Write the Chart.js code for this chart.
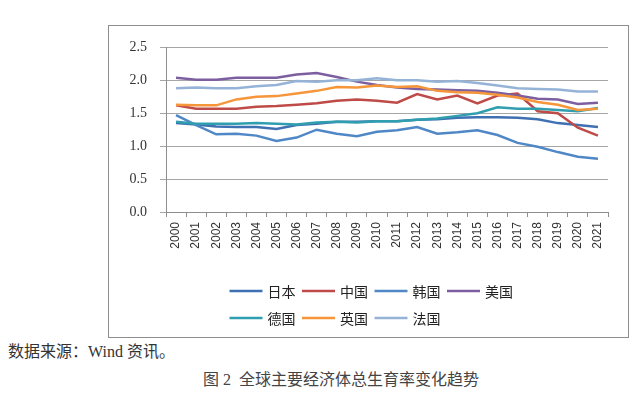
<!DOCTYPE html>
<html>
<head>
<meta charset="utf-8">
<script src="https://cdn.jsdelivr.net/npm/chart.js@4.4.0/dist/chart.umd.min.js"></script>
<style>
  body { margin: 0; background: #fff; width: 640px; height: 399px; position: relative; overflow: hidden; }
  #frame { position: absolute; left: 108px; top: 25px; width: 519px; height: 311px; border: 1px solid #8e8e8e; }
  #frame canvas { display: block; }
  #source { position: absolute; left: 8px; top: 342px; font: 16px "Liberation Serif", "Noto Sans CJK SC"; color: #333; line-height: 20px; }
  #caption { position: absolute; left: 0; width: 682px; top: 370px; text-align: center; font: 16px "Liberation Serif", "Noto Sans CJK SC"; color: #444; line-height: 20px; }
</style>
</head>
<body>
<div id="frame"><canvas id="tfr-chart" width="519" height="311"></canvas></div>
<div id="source">数据来源：Wind 资讯。</div>
<div id="caption">图 2&nbsp; 全球主要经济体总生育率变化趋势</div>
<script>
let years = ['2000', '2001', '2002', '2003', '2004', '2005', '2006', '2007', '2008', '2009', '2010',
             '2011', '2012', '2013', '2014', '2015', '2016', '2017', '2018', '2019', '2020', '2021']
let seriesNames = ['日本', '中国', '韩国', '美国', '德国', '英国', '法国']
let japan   = [1.35, 1.33, 1.30, 1.29, 1.29, 1.26, 1.32, 1.34, 1.37, 1.37, 1.38, 1.38, 1.40, 1.41, 1.43, 1.44, 1.44, 1.43, 1.41, 1.35, 1.32, 1.29]
let china   = [1.62, 1.57, 1.57, 1.57, 1.60, 1.61, 1.63, 1.65, 1.69, 1.71, 1.69, 1.66, 1.79, 1.71, 1.77, 1.65, 1.77, 1.80, 1.53, 1.50, 1.28, 1.16]
let korea   = [1.47, 1.32, 1.18, 1.19, 1.16, 1.08, 1.13, 1.25, 1.19, 1.15, 1.22, 1.24, 1.29, 1.19, 1.21, 1.24, 1.17, 1.05, 0.99, 0.91, 0.84, 0.81]
let usa     = [2.04, 2.01, 2.01, 2.04, 2.04, 2.04, 2.09, 2.11, 2.05, 1.98, 1.93, 1.89, 1.87, 1.86, 1.85, 1.84, 1.81, 1.77, 1.72, 1.71, 1.64, 1.66]
let germany = [1.37, 1.34, 1.34, 1.34, 1.35, 1.34, 1.33, 1.36, 1.37, 1.36, 1.38, 1.38, 1.40, 1.42, 1.46, 1.50, 1.59, 1.57, 1.57, 1.55, 1.53, 1.58]
let uk      = [1.63, 1.62, 1.62, 1.71, 1.75, 1.76, 1.80, 1.84, 1.90, 1.89, 1.92, 1.90, 1.91, 1.84, 1.82, 1.81, 1.78, 1.74, 1.67, 1.63, 1.55, 1.57]
let france  = [1.88, 1.89, 1.88, 1.88, 1.91, 1.93, 1.99, 1.98, 2.00, 2.00, 2.03, 2.00, 2.00, 1.98, 1.99, 1.96, 1.92, 1.88, 1.87, 1.86, 1.83, 1.83]
let yTickLabels = ['0.0', '0.5', '1.0', '1.5', '2.0', '2.5']
let lineColors = ['#3f70b2', '#be4b48', '#4f87c7', '#7d5fa0', '#2f9fb0', '#f5963a', '#95b3d7']

let allSeries = [japan, china, korea, usa, germany, uk, france]

// legend drawn like the Excel one: 4 columns, second row under the first
const gridLegend = {
    id: 'gridLegend',
    afterDraw(chart) {
        const ctx = chart.ctx
        ctx.save()
        ctx.font = '14px "Noto Sans CJK SC"'
        ctx.textBaseline = 'middle'
        ctx.textAlign = 'left'
        chart.data.datasets.forEach((ds, i) => {
            const x = 120.5 + (i % 4) * 72.5
            const y = 265 + Math.floor(i / 4) * 27
            ctx.strokeStyle = ds.borderColor
            ctx.lineWidth = 2.5
            ctx.beginPath()
            ctx.moveTo(x, y)
            ctx.lineTo(x + 33, y)
            ctx.stroke()
            ctx.fillStyle = '#222'
            ctx.fillText(ds.label, x + 38, y + 1)
        })
        ctx.restore()
    }
}

new Chart('tfr-chart', {
    type: 'line',
    data: {
        labels: years,
        datasets: allSeries.map((vals, i) => ({
            label: seriesNames[i],
            data: vals,
            borderColor: lineColors[i],
            backgroundColor: lineColors[i],
            borderWidth: 2.5,
            pointRadius: 0,
            tension: 0,
            order: allSeries.length - 1 - i
        }))
    },
    options: {
        responsive: false,
        animation: false,
        devicePixelRatio: 1,
        layout: { padding: { top: 18, right: 20, left: 0, bottom: 85 } },
        plugins: {
            legend: { display: false },
            tooltip: { enabled: false }
        },
        scales: {
            x: {
                offset: true,
                afterFit: (scale) => { scale.height = 40 },
                grid: { offset: true, drawOnChartArea: false, drawTicks: true, tickLength: 5, color: '#8e8e8e' },
                border: { color: '#8e8e8e' },
                ticks: {
                    minRotation: 90, maxRotation: 90, autoSkip: false, padding: 5,
                    color: '#333', font: { family: 'Liberation Sans', size: 12 }
                }
            },
            y: {
                min: 0, max: 2.5,
                afterFit: (scale) => { scale.width = 57 },
                grid: { color: '#a6a6a6', tickLength: 6 },
                border: { color: '#8e8e8e' },
                ticks: {
                    stepSize: 0.5, padding: 13, color: '#333',
                    font: { family: 'Liberation Serif', size: 14 },
                    callback: (v) => yTickLabels[Math.round(v / 0.5)]
                }
            }
        }
    },
    plugins: [gridLegend]
})
</script>
</body>
</html>
